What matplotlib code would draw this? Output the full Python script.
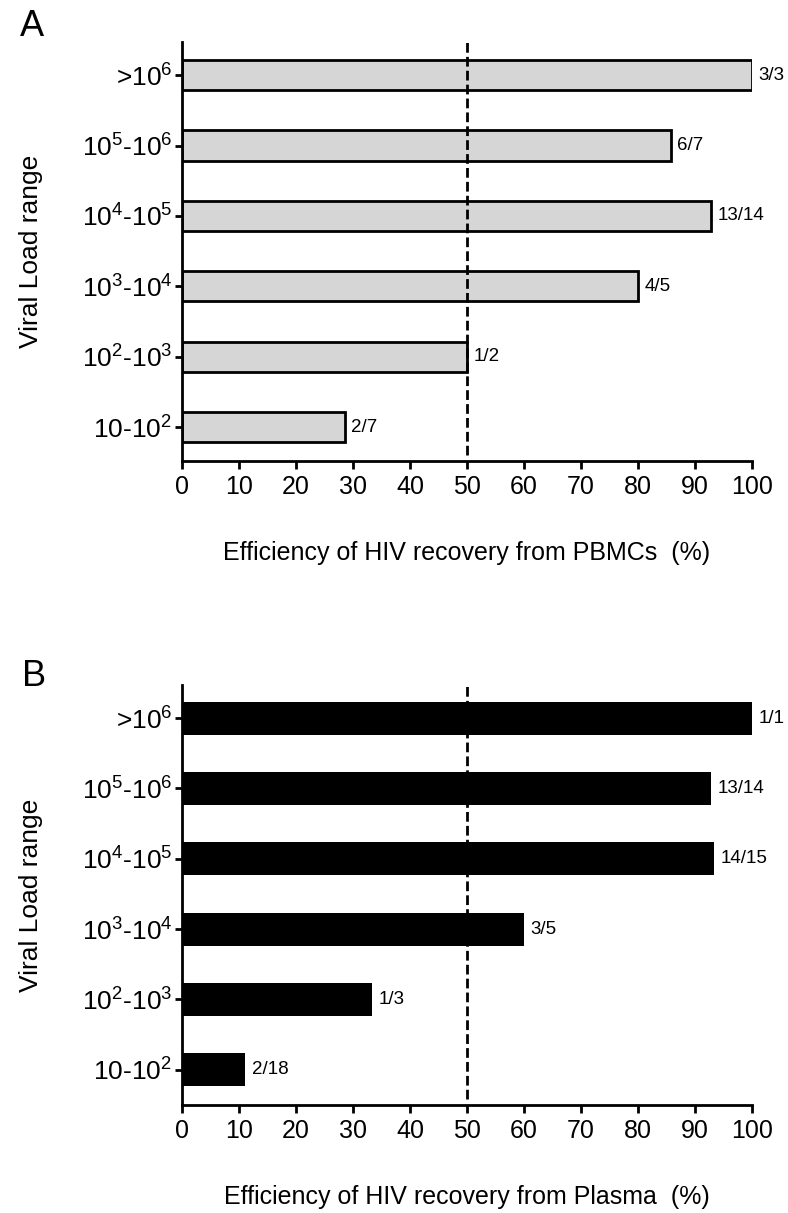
import matplotlib
matplotlib.use('Agg')
import matplotlib.pyplot as plt

plt.rcParams['font.family'] = ['Liberation Sans', 'DejaVu Sans']
plt.rcParams['mathtext.fontset'] = 'custom'
plt.rcParams['mathtext.rm'] = 'Liberation Sans'
plt.rcParams['mathtext.default'] = 'regular'

# viral load ranges, bottom to top
ranges = ['10-10$^2$', '10$^2$-10$^3$', '10$^3$-10$^4$',
          '10$^4$-10$^5$', '10$^5$-10$^6$', '>10$^6$']

# positives / total per range
pbmc_pos = [2, 1, 4, 13, 6, 3]
pbmc_tot = [7, 2, 5, 14, 7, 3]
plasma_pos = [2, 1, 3, 14, 13, 1]
plasma_tot = [18, 3, 5, 15, 14, 1]
threshold = 50
xticks = list(range(0, 101, 10))

W, H = 788, 1213
fig = plt.figure(figsize=(W/100, H/100), dpi=100)

def panel(box, pos, tot, face, edge, lw, height, ylim, xlabel, letter, letter_xy):
    ax = fig.add_axes([box[0]/W, 1-box[3]/H, (box[2]-box[0])/W, (box[3]-box[1])/H])
    pct = [100.0*p/t for p, t in zip(pos, tot)]
    ypos = list(range(len(ranges)))
    ax.barh(ypos, pct, height=height, color=face, edgecolor=edge, linewidth=lw)
    for y, v, p, t in zip(ypos, pct, pos, tot):
        ax.annotate('{}/{}'.format(p, t), (v, y), xytext=(4.5, 0), textcoords='offset points',
                    va='center', ha='left', fontsize=13.5)
    ax.axvline(threshold, ymin=0.015, ymax=1, color='black', lw=2, dashes=(3.5, 1.5))
    ax.set_xlim(0, 100)
    ax.set_ylim(*ylim)
    ax.set_xticks(xticks)
    ax.set_yticks(ypos)
    ax.set_yticklabels(ranges)
    for s in ['top', 'right']:
        ax.spines[s].set_visible(False)
    for s in ['left', 'bottom']:
        ax.spines[s].set_linewidth(2)
    ax.tick_params(axis='x', length=6, width=2, labelsize=18, pad=4)
    ax.tick_params(axis='y', length=5, width=2, labelsize=19, pad=2)
    ax.set_xlabel(xlabel, fontsize=18, labelpad=30)
    ax.set_ylabel('Viral Load range', fontsize=19, labelpad=28)
    fig.text(letter_xy[0]/W, 1-letter_xy[1]/H, letter, fontsize=26, ha='left', va='center')
    return ax

axA = panel((182, 42, 752, 461), pbmc_pos, pbmc_tot, '#d6d6d6', 'black', 2, 0.43,
            (-0.48, 5.47), 'Efficiency of HIV recovery from PBMCs  (%)', 'A', (20, 27))
axB = panel((182, 685, 752, 1105), plasma_pos, plasma_tot, 'black', 'black', 0, 0.47,
            (-0.5, 5.47), 'Efficiency of HIV recovery from Plasma  (%)', 'B', (22, 677))

fig.savefig('out.png', dpi=100)
